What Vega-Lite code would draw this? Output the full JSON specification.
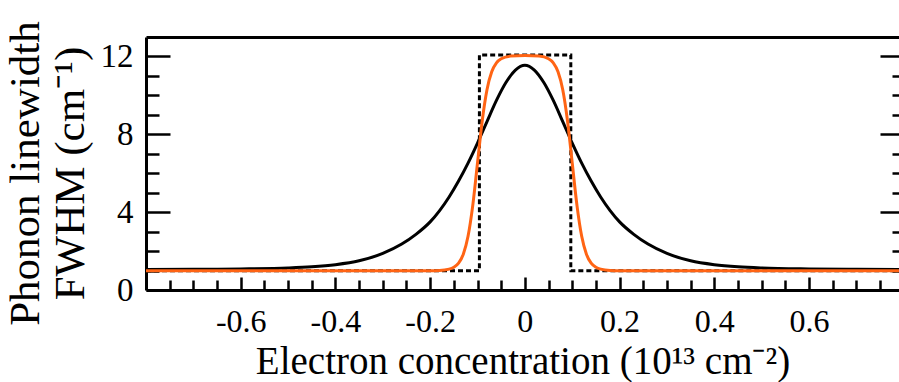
{
  "$schema": "https://vega.github.io/schema/vega-lite/v6.json",
  "width": 753,
  "height": 253,
  "autosize": {"type": "none"},
  "padding": {"left": 146, "top": 37, "right": 0, "bottom": 92},
  "background": "white",
  "config": {
    "view": {"stroke": null},
    "axis": {
      "labelFont": "Liberation Serif",
      "titleFont": "Liberation Serif",
      "labelColor": "black",
      "titleColor": "black",
      "tickColor": "black",
      "domainColor": "black",
      "grid": false,
      "titleFontWeight": "normal"
    }
  },
  "data": {
    "values": [
      {"s": "b", "x": -0.8, "y": 1.05},
      {"s": "b", "x": -0.7, "y": 1.06},
      {"s": "b", "x": -0.6, "y": 1.08},
      {"s": "b", "x": -0.5, "y": 1.13},
      {"s": "b", "x": -0.45, "y": 1.19},
      {"s": "b", "x": -0.4, "y": 1.3},
      {"s": "b", "x": -0.35, "y": 1.5},
      {"s": "b", "x": -0.3, "y": 1.88},
      {"s": "b", "x": -0.26, "y": 2.36},
      {"s": "b", "x": -0.23, "y": 2.86},
      {"s": "b", "x": -0.2, "y": 3.5},
      {"s": "b", "x": -0.18, "y": 4.08},
      {"s": "b", "x": -0.16, "y": 4.78},
      {"s": "b", "x": -0.14, "y": 5.6},
      {"s": "b", "x": -0.12, "y": 6.52},
      {"s": "b", "x": -0.1, "y": 7.55},
      {"s": "b", "x": -0.08, "y": 8.65},
      {"s": "b", "x": -0.06, "y": 9.74},
      {"s": "b", "x": -0.04, "y": 10.66},
      {"s": "b", "x": -0.02, "y": 11.3},
      {"s": "b", "x": 0, "y": 11.55},
      {"s": "b", "x": 0.02, "y": 11.3},
      {"s": "b", "x": 0.04, "y": 10.66},
      {"s": "b", "x": 0.06, "y": 9.74},
      {"s": "b", "x": 0.08, "y": 8.65},
      {"s": "b", "x": 0.1, "y": 7.55},
      {"s": "b", "x": 0.12, "y": 6.52},
      {"s": "b", "x": 0.14, "y": 5.6},
      {"s": "b", "x": 0.16, "y": 4.78},
      {"s": "b", "x": 0.18, "y": 4.08},
      {"s": "b", "x": 0.2, "y": 3.5},
      {"s": "b", "x": 0.23, "y": 2.86},
      {"s": "b", "x": 0.26, "y": 2.36},
      {"s": "b", "x": 0.3, "y": 1.88},
      {"s": "b", "x": 0.35, "y": 1.5},
      {"s": "b", "x": 0.4, "y": 1.3},
      {"s": "b", "x": 0.45, "y": 1.19},
      {"s": "b", "x": 0.5, "y": 1.13},
      {"s": "b", "x": 0.6, "y": 1.08},
      {"s": "b", "x": 0.7, "y": 1.06},
      {"s": "b", "x": 0.8, "y": 1.05},
      {"s": "o", "x": -0.8, "y": 0.99},
      {"s": "o", "x": -0.5, "y": 0.99},
      {"s": "o", "x": -0.2, "y": 0.99},
      {"s": "o", "x": -0.18, "y": 1.0},
      {"s": "o", "x": -0.16, "y": 1.07},
      {"s": "o", "x": -0.15, "y": 1.17},
      {"s": "o", "x": -0.14, "y": 1.38},
      {"s": "o", "x": -0.13, "y": 1.84},
      {"s": "o", "x": -0.12, "y": 2.76},
      {"s": "o", "x": -0.11, "y": 4.35},
      {"s": "o", "x": -0.1, "y": 6.53},
      {"s": "o", "x": -0.09, "y": 8.7},
      {"s": "o", "x": -0.08, "y": 10.29},
      {"s": "o", "x": -0.07, "y": 11.21},
      {"s": "o", "x": -0.06, "y": 11.67},
      {"s": "o", "x": -0.05, "y": 11.88},
      {"s": "o", "x": -0.03, "y": 12.02},
      {"s": "o", "x": 0, "y": 12.05},
      {"s": "o", "x": 0.03, "y": 12.02},
      {"s": "o", "x": 0.05, "y": 11.88},
      {"s": "o", "x": 0.06, "y": 11.67},
      {"s": "o", "x": 0.07, "y": 11.21},
      {"s": "o", "x": 0.08, "y": 10.29},
      {"s": "o", "x": 0.09, "y": 8.7},
      {"s": "o", "x": 0.1, "y": 6.53},
      {"s": "o", "x": 0.11, "y": 4.35},
      {"s": "o", "x": 0.12, "y": 2.76},
      {"s": "o", "x": 0.13, "y": 1.84},
      {"s": "o", "x": 0.14, "y": 1.38},
      {"s": "o", "x": 0.15, "y": 1.17},
      {"s": "o", "x": 0.16, "y": 1.07},
      {"s": "o", "x": 0.18, "y": 1.0},
      {"s": "o", "x": 0.2, "y": 0.99},
      {"s": "o", "x": 0.5, "y": 0.99},
      {"s": "o", "x": 0.8, "y": 0.99},
      {"s": "d", "i": 1, "x": -0.8, "y": 0.99},
      {"s": "d", "i": 2, "x": -0.096, "y": 0.99},
      {"s": "d", "i": 3, "x": -0.096, "y": 12.08},
      {"s": "d", "i": 4, "x": 0.097, "y": 12.08},
      {"s": "d", "i": 5, "x": 0.097, "y": 0.99},
      {"s": "d", "i": 6, "x": 0.79, "y": 0.99}
    ]
  },
  "layer": [
    {
      "transform": [{"filter": "datum.s === 'd'"}],
      "mark": {"type": "line", "stroke": "black", "strokeWidth": 3, "strokeDash": [5, 3], "clip": true},
      "encoding": {
        "x": {
          "field": "x", "type": "quantitative",
          "scale": {"domain": [-0.8, 0.79], "nice": false, "zero": false},
          "axis": {
            "orient": "bottom",
            "values": [-0.6, -0.4, -0.2, 0, 0.2, 0.4, 0.6],
            "tickSize": -13, "tickWidth": 2.5,
            "domain": true, "domainWidth": 3,
            "labelFontSize": 32, "labelPadding": 54, "labelBaseline": "alphabetic",
            "labelExpr": "toString(datum.value)", "labelFlush": false, "labelOverlap": false,
            "title": "Electron concentration (10¹³ cm⁻²)",
            "titleFontSize": 39, "titleBaseline": "alphabetic", "titleY": 83
          }
        },
        "y": {
          "field": "y", "type": "quantitative",
          "scale": {"domain": [0, 13], "nice": false, "zero": false},
          "axis": {
            "orient": "left",
            "values": [0, 4, 8, 12],
            "tickSize": -24, "tickWidth": 2.5,
            "domain": true, "domainWidth": 3,
            "labelFontSize": 33, "labelPadding": 37,
            "labelExpr": "toString(datum.value)", "labelFlush": false, "labelOverlap": false,
            "title": ["Phonon linewidth", "FWHM (cm⁻¹)"],
            "titleFontSize": 43, "titleAngle": -90, "titleX": -121, "titleY": 136,
            "titleAlign": "center", "titleBaseline": "middle", "titleLineHeight": 45
          }
        },
        "order": {"field": "i", "type": "quantitative"}
      }
    },
    {
      "transform": [{"filter": "datum.s === 'b'"}],
      "mark": {"type": "line", "stroke": "black", "strokeWidth": 3, "interpolate": "monotone", "clip": true},
      "encoding": {
        "x": {
          "field": "x", "type": "quantitative",
          "scale": {"domain": [-0.8, 0.79], "nice": false, "zero": false},
          "axis": {
            "orient": "bottom",
            "values": [-0.75, -0.7, -0.65, -0.55, -0.5, -0.45, -0.35, -0.3, -0.25, -0.15, -0.1, -0.05, 0.05, 0.1, 0.15, 0.25, 0.3, 0.35, 0.45, 0.5, 0.55, 0.65, 0.7, 0.75],
            "tickSize": -10, "tickWidth": 2.5,
            "domain": false, "labels": false, "title": null
          }
        },
        "y": {
          "field": "y", "type": "quantitative",
          "scale": {"domain": [0, 13], "nice": false, "zero": false},
          "axis": {
            "orient": "left",
            "values": [1, 2, 3, 5, 6, 7, 9, 10, 11],
            "tickSize": -13, "tickWidth": 2.5,
            "domain": false, "labels": false, "title": null
          }
        }
      }
    },
    {
      "transform": [{"filter": "datum.s === 'o'"}],
      "mark": {"type": "line", "stroke": "#ff6414", "strokeWidth": 3, "interpolate": "monotone", "clip": true},
      "encoding": {
        "x": {
          "field": "x", "type": "quantitative",
          "scale": {"domain": [-0.8, 0.79], "nice": false, "zero": false},
          "axis": {
            "orient": "top",
            "ticks": false, "labels": false, "title": null,
            "domain": true, "domainWidth": 3
          }
        },
        "y": {
          "field": "y", "type": "quantitative",
          "scale": {"domain": [0, 13], "nice": false, "zero": false},
          "axis": {
            "orient": "right",
            "values": [0, 1, 2, 3, 4, 5, 6, 7, 8, 9, 10, 11, 12],
            "tickSize": {"condition": {"test": "datum.value % 4 === 0", "value": -19}, "value": -7},
            "tickWidth": 2.5,
            "domain": false, "labels": false, "title": null
          }
        }
      }
    }
  ],
  "resolve": {"axis": {"x": "independent", "y": "independent"}}
}
